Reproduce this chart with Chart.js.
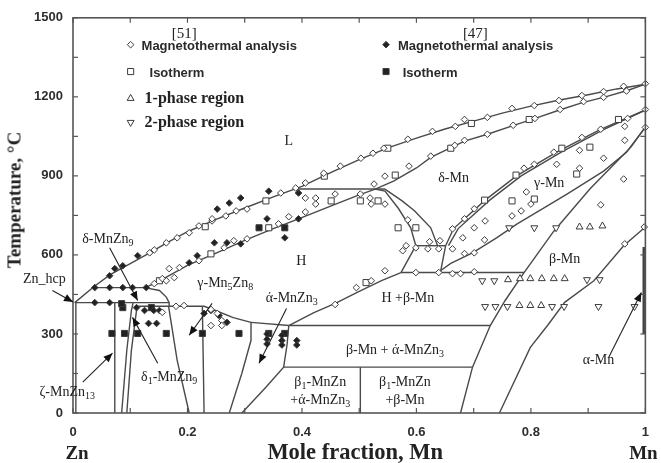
<!DOCTYPE html>
<html>
<head>
<meta charset="utf-8">
<script src="https://cdn.jsdelivr.net/npm/chart.js@4.4.1/dist/chart.umd.min.js"></script>
<style>
  html, body { margin: 0; padding: 0; background: #fff; }
  #wrap { position: relative; width: 661px; height: 463px; overflow: hidden; }
  canvas { display: block; }
  .lbl { position: absolute; transform: translate(-50%, -50%); white-space: nowrap; line-height: 1;
         font-family: "Liberation Serif", "DejaVu Serif", serif; font-size: 14px; color: #222; }
  .lbl sub { font-size: 10px; vertical-align: baseline; position: relative; top: 3px; }
  .left { transform: translate(0, -50%); }
  .leg { font-family: "Liberation Sans", Arial, sans-serif; font-weight: bold; font-size: 13px; color: #2a2a2a; }
  .legs { font-family: "Liberation Serif", serif; font-weight: bold; font-size: 16px; color: #222; }
  .ref { font-size: 15px; }
  .axt { font-family: "Liberation Serif", serif; font-weight: bold; font-size: 19px; color: #222; }
  .big { font-size: 22.5px; }
  .rot { transform: translate(-50%, -50%) rotate(-90deg); }
</style>
</head>
<body>
<div id="wrap"><canvas id="c" width="661" height="463"></canvas></div>
<script>
// ---- axis ticks ----
const xTickValues = [0, 0.2, 0.4, 0.6, 0.8, 1];
const xTickLabels = ['0', '0.2', '0.4', '0.6', '0.8', '1'];
const yTickValues = [0, 300, 600, 900, 1200, 1500];
const yTickLabels = ['0', '300', '600', '900', '1200', '1500'];

// ---- phase boundaries [mole fraction Mn, temperature °C] ----
const liquidus = [[0.003,419],[0.038,482],[0.065,525],[0.1,567],[0.134,608],[0.163,645],[0.2,688],[0.25,735],[0.3,778],[0.35,820],[0.4,860],[0.45,912],[0.5,962],[0.55,1006],[0.6,1043],[0.65,1078],[0.7,1108],[0.75,1138],[0.8,1165],[0.85,1188],[0.9,1208],[0.95,1230],[1.0,1248]];
const solidusH = [[0.125,476],[0.142,491],[0.16,512],[0.2,560],[0.25,607],[0.3,655],[0.35,700],[0.394,737],[0.45,785],[0.5,828],[0.528,850],[0.56,880],[0.6,930],[0.625,970],[0.684,1032],[0.724,1058],[0.77,1092],[0.81,1120],[0.85,1150],[0.89,1178],[0.93,1200],[0.97,1225],[1.0,1248]];
const peritectic850 = [[0.392,850],[0.545,850]];
const hRight = [[0.528,850],[0.545,842],[0.568,778],[0.59,703],[0.599,635]];
const deltaLeft = [[0.545,850],[0.575,805],[0.597,767],[0.625,703],[0.637,635]];
const iso635 = [[0.599,635],[0.651,635]];
const link635L = [[0.599,635],[0.573,533]];
const link635R = [[0.651,635],[0.642,535]];
const iso533 = [[0.573,533],[0.788,533]];
const hLower = [[0.377,332],[0.42,380],[0.46,418],[0.5,462],[0.54,503],[0.573,533]];
const deltaGammaA = [[0.651,635],[0.665,700],[0.72,808],[0.775,900],[0.845,990],[0.92,1075],[1.0,1150]];
const deltaGammaB = [[0.656,635],[0.673,700],[0.728,808],[0.783,900],[0.853,990],[0.926,1075],[1.0,1150]];
const gammaBeta = [[0.642,540],[0.66,568],[0.698,608],[0.74,665],[0.776,718],[0.82,775],[0.863,831],[0.927,918],[0.967,990],[1.0,1085]];
const betaLeft = [[0.677,0],[0.698,174],[0.729,332],[0.755,427],[0.788,533],[0.84,690],[0.903,850],[0.95,955],[0.975,1010],[1.0,1085]];
const betaRight = [[0.745,0],[0.799,249],[0.83,335],[0.859,420],[0.91,502],[0.962,635],[1.0,706]];
const iso332 = [[0.377,332],[0.729,332]];
const iso174 = [[0.368,174],[0.698,174]];
const split502 = [[0.502,0],[0.502,174]];
const alphaZnRight = [[0.377,332],[0.374,260],[0.368,174],[0.337,98],[0.295,0]];
const alphaZnLeft = [[0.311,344],[0.311,276],[0.295,151],[0.273,0]];
const alphaZnTop = [[0.311,344],[0.377,332]];
const gammaZnTop = [[0.113,405],[0.229,405],[0.25,388],[0.28,362],[0.311,344]];
const gammaZnRight = [[0.226,405],[0.229,0]];
const delta1Right = [[0.167,405],[0.182,200],[0.203,0]];
const delta1A = [[0.085,0],[0.094,238],[0.102,389],[0.105,419]];
const delta1B = [[0.094,0],[0.102,238],[0.111,389],[0.113,405]];
const zetaLeft = [[0.073,0],[0.073,419]];
const hcpRight = [[0.005,0],[0.005,419]];
const iso419 = [[0.003,419],[0.168,419]];
const iso476 = [[0.038,476],[0.125,476]];
const hLeft = [[0.125,476],[0.151,465],[0.163,440],[0.168,419],[0.168,405]];
const alphaMn = [[0.998,300],[0.998,630]];

// ---- measurements ----
const magneto51 = [[0.503,967],[0.524,986],[0.543,1005],[0.585,1039],[0.628,1069],[0.668,1088],[0.684,1114],[0.724,1122],[0.767,1156],[0.806,1167],[0.849,1186],[0.889,1205],[0.927,1220],[0.962,1240],[1.0,1250],
  [0.625,975],[0.667,1016],[0.684,1035],[0.724,1058],[0.769,1092],[0.807,1118],[0.851,1152],[0.892,1182],[0.927,1198],[0.967,1222],
  [0.587,937],[0.545,899],[0.526,869],[0.467,937],[0.438,910],[0.406,873],[0.389,854],[0.363,835],
  [1.0,1152],[0.969,1118],[0.964,1088],[0.922,1077],[0.889,1046],[0.885,997],[0.84,990],[0.927,967],[0.964,1035],[1.0,1084],[0.885,929],[0.845,944],[0.806,944],[0.788,929],[0.962,888],[0.922,790],[0.964,642],[0.998,706],
  [0.701,775],[0.684,737],[0.663,699],[0.641,654],[0.792,839],[0.80,793],[0.783,767],[0.767,748],[0.72,729],[0.701,703],[0.681,665],[0.719,657],[0.663,623],[0.684,605],[0.701,608],
  [0.62,623],[0.639,623],[0.639,533],[0.663,529],[0.677,529],[0.701,536],[0.599,627],[0.623,650],[0.599,533],[0.576,616],[0.582,635],[0.585,733],
  [0.502,831],[0.519,816],[0.521,793],[0.545,793],[0.458,831],[0.424,816],[0.424,793],[0.406,816],[0.406,763],[0.377,745],[0.359,718],[0.304,774],[0.285,767],[0.267,748],[0.243,729],[0.304,661],[0.281,654],[0.264,627],
  [0.545,540],[0.521,502],[0.495,476],[0.458,412],
  [0.243,737],[0.22,710],[0.203,684],[0.182,665],[0.163,646],[0.142,619],[0.134,608],
  [0.22,578],[0.186,552],[0.168,548],[0.156,510],[0.142,491],[0.163,502],[0.177,514],
  [0.156,382],[0.18,405],[0.194,408],[0.241,393],[0.252,378],[0.26,351],[0.241,332],[0.26,332]];
const isotherm51 = [[0.55,1005],[0.696,1099],[0.797,1114],[0.66,1005],[0.953,1114],[0.903,1009],[0.854,1005],[0.88,907],[0.774,903],[0.719,808],[0.767,805],[0.806,812],[0.568,703],[0.599,703],[0.563,903],[0.502,805],[0.533,805],[0.451,805],[0.342,703],[0.337,805],[0.231,707],[0.241,604],[0.512,495],[0.439,899],[0.151,502]];
const onePhase = [[0.885,706],[0.903,706],[0.925,710],[0.76,506],[0.781,510],[0.799,510],[0.819,510],[0.84,510],[0.859,510],[0.78,408],[0.799,408],[0.818,408]];
const twoPhase = [[0.762,703],[0.806,703],[0.844,703],[0.715,502],[0.736,502],[0.898,506],[0.92,506],[0.72,404],[0.738,404],[0.759,404],[0.837,404],[0.858,404],[0.918,404],[0.981,404]];
const magneto47 = [[0.252,774],[0.113,597],[0.087,559],[0.073,548],[0.064,521],[0.038,476],
  [0.064,476],[0.087,476],[0.104,476],[0.128,476],[0.038,419],[0.064,419],
  [0.217,597],[0.203,570],[0.293,816],[0.273,797],[0.342,842],[0.394,835],[0.339,737],[0.394,737],[0.37,665],[0.269,646],[0.247,646],[0.293,642],
  [0.111,400],[0.125,389],[0.141,389],[0.151,389],[0.132,340],[0.146,340],
  [0.229,378],[0.241,389],[0.255,370],[0.269,344],
  [0.339,300],[0.339,280],[0.339,262],[0.365,295],[0.365,275],[0.365,258],[0.391,275],[0.391,258]];
const isotherm47 = [[0.087,400],[0.137,400],[0.085,415],[0.068,302],[0.09,302],[0.113,302],[0.163,302],[0.226,302],[0.29,302],[0.342,302],[0.37,302],[0.325,703],[0.37,703]];

const boundaries = [liquidus, solidusH, peritectic850, hRight, deltaLeft, iso635, link635L, link635R, iso533, hLower,
  deltaGammaA, deltaGammaB, gammaBeta, betaLeft, betaRight, iso332, iso174, split502, alphaZnRight, alphaZnLeft, alphaZnTop,
  gammaZnTop, gammaZnRight, delta1Right, delta1A, delta1B, zetaLeft, hcpRight, iso419, iso476, hLeft];

const pts = a => a.map(p => ({ x: p[0], y: p[1] }));
const INK = '#3c3c3c';

const datasets = [];
const markerSets = [
  { data: magneto51, style: 'rectRot', r: 3.3, fill: '#fff' },
  { data: isotherm51, style: 'rect', r: 4.3, fill: '#fff' },
  { data: onePhase, style: 'triangle', r: 4, fill: '#fff' },
  { data: twoPhase, style: 'triangle', r: 4, fill: '#fff', rot: 180 },
  { data: magneto47, style: 'rectRot', r: 3.3, fill: '#222' },
  { data: isotherm47, style: 'rect', r: 4.3, fill: '#222' }
];
markerSets.forEach(m => datasets.push({
  type: 'scatter', data: pts(m.data), pointStyle: m.style, pointRadius: m.r, pointRotation: m.rot || 0,
  backgroundColor: m.fill, borderColor: INK, borderWidth: 1, order: 0, clip: false
}));
boundaries.forEach(b => datasets.push({
  type: 'line', data: pts(b), borderColor: '#4a4a4a', borderWidth: 1.4, pointRadius: 0, tension: 0, fill: false, order: 2, clip: false
}));
datasets.push({ type: 'line', data: pts(alphaMn), borderColor: '#444', borderWidth: 3.5, pointRadius: 0, order: 1, clip: false });

// legend markers and arrows, anchored in data coordinates
const legendMarks = [
  { x: 0.1007, y: 1398, style: 'rectRot', r: 3.3, fill: '#fff' },
  { x: 0.1007, y: 1296, style: 'rect', r: 4.3, fill: '#fff' },
  { x: 0.1007, y: 1194, style: 'triangle', r: 4, fill: '#fff' },
  { x: 0.1007, y: 1103, style: 'triangle', r: 4, fill: '#fff', rot: 180 },
  { x: 0.5469, y: 1398, style: 'rectRot', r: 3.3, fill: '#222' },
  { x: 0.5469, y: 1296, style: 'rect', r: 4.3, fill: '#222' }
];
const arrows = [
  [[-0.036, 465], [0.0, 421]],
  [[0.064, 627], [0.113, 427]],
  [[0.148, 189], [0.104, 363]],
  [[0.017, 117], [0.069, 227]],
  [[0.243, 416], [0.203, 295]],
  [[0.373, 397], [0.325, 189]],
  [[0.936, 212], [0.993, 457]]
];

const decor = {
  id: 'decor',
  afterDatasetsDraw(chart) {
    const { ctx, chartArea: a, scales: { x, y } } = chart;
    ctx.save();
    // frame
    ctx.strokeStyle = '#555'; ctx.lineWidth = 1.6;
    ctx.strokeRect(a.left, a.top, a.right - a.left, a.bottom - a.top);
    // inward ticks on all four sides
    ctx.lineWidth = 1.2;
    const seg = (x1, y1, x2, y2) => { ctx.beginPath(); ctx.moveTo(x1, y1); ctx.lineTo(x2, y2); ctx.stroke(); };
    for (let i = 0; i <= 10; i++) {
      const px = x.getPixelForValue(i / 10);
      seg(px, a.bottom, px, a.bottom - 5); seg(px, a.top, px, a.top + 5);
    }
    for (let i = 0; i <= 10; i++) {
      const py = y.getPixelForValue(i * 150);
      seg(a.left, py, a.left + 5, py); seg(a.right, py, a.right - 5, py);
    }
    // arrows
    ctx.strokeStyle = '#222'; ctx.fillStyle = '#111'; ctx.lineWidth = 1.1;
    arrows.forEach(([p, q]) => {
      const x1 = x.getPixelForValue(p[0]), y1 = y.getPixelForValue(p[1]);
      const x2 = x.getPixelForValue(q[0]), y2 = y.getPixelForValue(q[1]);
      seg(x1, y1, x2, y2);
      const ang = Math.atan2(y2 - y1, x2 - x1), L = 9, W = 3.8;
      ctx.beginPath();
      ctx.moveTo(x2, y2);
      ctx.lineTo(x2 - L * Math.cos(ang) + W * Math.sin(ang), y2 - L * Math.sin(ang) - W * Math.cos(ang));
      ctx.lineTo(x2 - L * Math.cos(ang) - W * Math.sin(ang), y2 - L * Math.sin(ang) + W * Math.cos(ang));
      ctx.closePath(); ctx.fill();
    });
    // legend symbols
    legendMarks.forEach(m => {
      ctx.fillStyle = m.fill; ctx.strokeStyle = INK; ctx.lineWidth = 1;
      Chart.helpers.drawPoint(ctx, { pointStyle: m.style, radius: m.r, rotation: m.rot || 0, borderWidth: 1 },
        x.getPixelForValue(m.x), y.getPixelForValue(m.y));
    });
    ctx.restore();
  }
};

const tickFont = { family: '"Liberation Sans", Arial, sans-serif', size: 13, weight: 'bold' };
const chart = new Chart(document.getElementById('c'), {
  type: 'scatter',
  data: { datasets },
  options: {
    responsive: false, animation: false, devicePixelRatio: 1,
    layout: { padding: { top: 16, right: 12, left: 0, bottom: 0 } },
    plugins: { legend: { display: false }, tooltip: { enabled: false } },
    scales: {
      x: {
        type: 'linear', min: 0, max: 1,
        afterFit: s => { s.height = 50; },
        afterBuildTicks: s => { s.ticks = xTickValues.map(v => ({ value: v })); },
        ticks: { padding: 12, color: '#2e2e2e', font: tickFont, maxRotation: 0,
          callback: v => { const i = xTickValues.findIndex(t => Math.abs(t - v) < 1e-9); return i < 0 ? '' : xTickLabels[i]; } },
        grid: { display: false, drawTicks: false }, border: { display: false }
      },
      y: {
        type: 'linear', min: 0, max: 1500,
        afterFit: s => { s.width = 73; },
        afterBuildTicks: s => { s.ticks = yTickValues.map(v => ({ value: v })); },
        ticks: { padding: 10, color: '#2e2e2e', font: tickFont,
          callback: v => { const i = yTickValues.indexOf(v); return i < 0 ? '' : yTickLabels[i]; } },
        grid: { display: false, drawTicks: false }, border: { display: false }
      }
    }
  },
  plugins: [decor]
});

// text placed at data coordinates
const texts = [
  { t: 'L', x: 0.377, y: 1031 },
  { t: 'δ-Mn', x: 0.665, y: 892 },
  { t: 'γ-Mn', x: 0.832, y: 873 },
  { t: 'H', x: 0.399, y: 578 },
  { t: 'H +β-Mn', x: 0.585, y: 438 },
  { t: 'β-Mn', x: 0.859, y: 586 },
  { t: 'β-Mn + ά-MnZn<sub>3</sub>', x: 0.5625, y: 238 },
  { t: 'β<sub>1</sub>-MnZn', x: 0.432, y: 117 },
  { t: '+ά-MnZn<sub>3</sub>', x: 0.432, y: 49 },
  { t: 'β<sub>1</sub>-MnZn', x: 0.58, y: 117 },
  { t: '+β-Mn', x: 0.58, y: 49 },
  { t: 'α-Mn', x: 0.918, y: 200 },
  { t: 'Zn_hcp', x: -0.05, y: 510 },
  { t: 'δ-MnZn<sub>9</sub>', x: 0.061, y: 661 },
  { t: 'γ-Mn<sub>5</sub>Zn<sub>8</sub>', x: 0.266, y: 495 },
  { t: 'ά-MnZn<sub>3</sub>', x: 0.382, y: 438 },
  { t: 'δ<sub>1</sub>-MnZn<sub>9</sub>', x: 0.168, y: 136 },
  { t: 'ζ-MnZn<sub>13</sub>', x: -0.01, y: 79 },
  { t: '[51]', x: 0.1944, y: 1444, c: 'ref' },
  { t: '[47]', x: 0.703, y: 1444, c: 'ref' },
  { t: 'Magnetothermal analysis', x: 0.1198, y: 1398, c: 'left leg' },
  { t: 'Isotherm', x: 0.1337, y: 1296, c: 'left leg' },
  { t: '1-phase region', x: 0.125, y: 1194, c: 'left legs' },
  { t: '2-phase region', x: 0.125, y: 1103, c: 'left legs' },
  { t: 'Magnetothermal analysis', x: 0.5677, y: 1398, c: 'left leg' },
  { t: 'Isotherm', x: 0.576, y: 1296, c: 'left leg' },
  { t: 'Mole fraction, Mn', x: 0.493, y: -147, c: 'axt big' },
  { t: 'Zn', x: 0.007, y: -147, c: 'axt' },
  { t: 'Mn', x: 0.9965, y: -147, c: 'axt' },
  { t: 'Temperature, °C', x: -0.1024, y: 809, c: 'axt rot' }
];
const wrap = document.getElementById('wrap');
texts.forEach(o => {
  const d = document.createElement('div');
  d.className = 'lbl ' + (o.c || '');
  d.innerHTML = o.t;
  d.style.left = chart.scales.x.getPixelForValue(o.x) + 'px';
  d.style.top = chart.scales.y.getPixelForValue(o.y) + 'px';
  wrap.appendChild(d);
});
</script>
</body>
</html>
